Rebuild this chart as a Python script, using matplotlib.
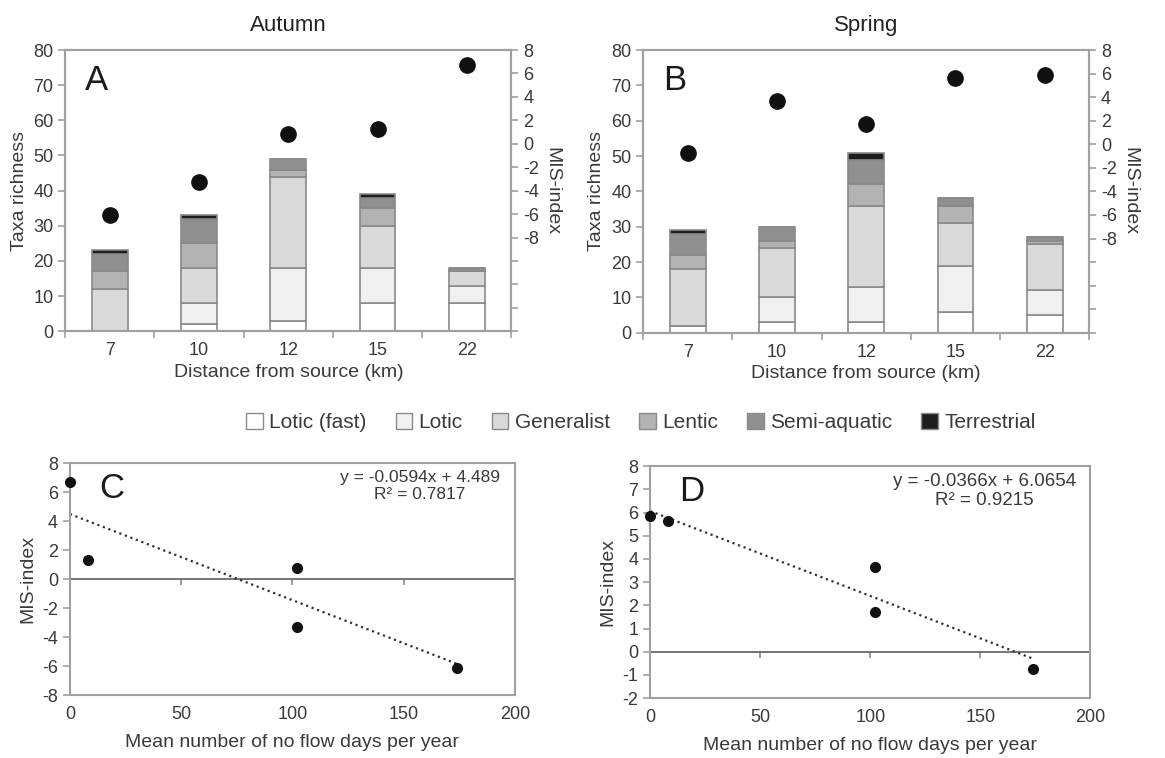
import numpy as np
import matplotlib
matplotlib.use('Agg')
import matplotlib.pyplot as plt
from matplotlib.patches import Patch

plt.rcParams['font.family'] = ['Liberation Sans', 'DejaVu Sans']
plt.rcParams['axes.unicode_minus'] = False

# Data
distance = ['7', '10', '12', '15', '22']
groups = ['Lotic (fast)', 'Lotic', 'Generalist', 'Lentic', 'Semi-aquatic', 'Terrestrial']
colors = ['#ffffff', '#f0f0f1', '#d9d9da', '#b3b3b4', '#8f8f90', '#1e1e1e']

# Autumn (A) taxa counts per group
aut_lotic_fast = [0, 2, 3, 8, 8]
aut_lotic = [0, 6, 15, 10, 5]
aut_generalist = [12, 10, 26, 12, 4]
aut_lentic = [5, 7, 2, 5, 0]
aut_semi = [5, 7, 3, 3, 1]
aut_terr = [1, 1, 0, 1, 0]
aut_mis = [-6.1, -3.3, 0.8, 1.3, 6.7]

# Spring (B)
spr_lotic_fast = [2, 3, 3, 6, 5]
spr_lotic = [0, 7, 10, 13, 7]
spr_generalist = [16, 14, 23, 12, 13]
spr_lentic = [4, 2, 6, 5, 1]
spr_semi = [6, 4, 7, 2, 1]
spr_terr = [1, 0, 2, 0, 0]
spr_mis = [-0.75, 3.65, 1.7, 5.65, 5.85]

# no flow days per site (same order as distance)
noflow_days = [174, 102, 102, 8, 0]

# trend line equations shown on the charts
aut_slope, aut_icpt, aut_r2 = -0.0594, 4.489, 0.7817
spr_slope, spr_icpt, spr_r2 = -0.0366, 6.0654, 0.9215

txt = '#3a3a3a'
spine = '#a0a0a0'

fig = plt.figure(figsize=(11.65, 7.58), dpi=100)


def bar_panel(rect, stacks, mis, letter, title):
    ax = fig.add_axes(rect)
    x = np.arange(len(distance))
    bottom = np.zeros(len(distance))
    for vals, c in zip(stacks, colors):
        ax.bar(x, vals, 0.4, bottom=bottom, color=c, edgecolor='#8a8a8a', linewidth=1.2, zorder=2)
        bottom += np.array(vals)
    ax.set_xlim(-0.5, len(distance) - 0.5)
    ax.set_ylim(0, 80)
    ax.set_yticks(range(0, 81, 10))
    ax.set_xticks(x)
    ax.set_xticklabels(distance)
    ax.set_xticks(np.arange(-0.5, len(distance)), minor=True)
    ax.tick_params(axis='x', which='major', length=0, pad=8)
    ax.tick_params(axis='x', which='minor', length=5, color=spine, width=1.2)
    ax.tick_params(axis='y', length=5, color=spine, width=1.2)
    ax.tick_params(labelsize=13, labelcolor=txt)
    ax.set_ylabel('Taxa richness', fontsize=14, color=txt, labelpad=4)
    ax.set_xlabel('Distance from source (km)', fontsize=14, color=txt, labelpad=3)
    ax.set_title(title, fontsize=16, color='#222222', pad=14)
    for s in ax.spines.values():
        s.set_color(spine)
        s.set_linewidth(1.5)
    ax.text(0.045, 0.95, letter, transform=ax.transAxes, fontsize=25, va='top', color='#1a1a1a')

    ax2 = ax.twinx()
    ax2.plot(x, mis, 'o', color='#111111', markersize=11, zorder=3)
    ax2.set_ylim(-16, 8)
    ax2.set_yticks(range(-16, 9, 2))
    ax2.set_yticklabels([str(v) if v >= -8 else '' for v in range(-16, 9, 2)])
    ax2.tick_params(axis='y', length=5, color=spine, width=1.2, labelsize=13, labelcolor=txt)
    ax2.set_ylabel('MIS-index', fontsize=14, color=txt, rotation=270)
    ax2.yaxis.set_label_coords(1.11, 0.5)
    for s in ax2.spines.values():
        s.set_color(spine)
        s.set_linewidth(1.5)
    return ax


def scatter_panel(rect, days, mis, slope, icpt, r2, ylo, ystep, letter, eqsize, eqx):
    ax = fig.add_axes(rect)
    ax.plot(days, mis, 'o', color='#111111', markersize=7, zorder=3, clip_on=False)
    xs = np.array([min(days), max(days)])
    ax.plot(xs, slope * xs + icpt, ':', color='#333333', linewidth=1.6, zorder=2)
    ax.axhline(0, color='#6a6a6a', linewidth=1.3, zorder=1)
    ax.set_xlim(0, 200)
    ax.set_ylim(ylo, 8)
    ax.set_yticks(np.arange(ylo, 8.1, ystep))
    ax.set_xticks(range(0, 201, 50))
    ax.tick_params(axis='x', length=0, pad=8)
    ax.tick_params(axis='y', length=5, color=spine, width=1.2)
    ax.tick_params(labelsize=13, labelcolor=txt)
    for s in ax.spines.values():
        s.set_color(spine)
        s.set_linewidth(1.5)
    # small tick marks hanging below the zero line
    sec = ax.secondary_xaxis((0 - ylo) / (8 - ylo))
    sec.set_xticks([50, 100, 150])
    sec.xaxis.set_ticks_position('top')
    sec.tick_params(axis='x', direction='in', length=4, color='#8a8a8a', width=1.2,
                    labelbottom=False, labeltop=False)
    for s in sec.spines.values():
        s.set_visible(False)
    ax.set_ylabel('MIS-index', fontsize=14, color=txt, labelpad=4)
    ax.set_xlabel('Mean number of no flow days per year', fontsize=14, color=txt, labelpad=8)
    ax.text(0.065, 0.96, letter, transform=ax.transAxes, fontsize=25, va='top', color='#1a1a1a')
    ax.text(eqx, 0.97, 'y = %.4fx + %s\nR² = %s' % (slope, icpt, r2), transform=ax.transAxes,
            fontsize=eqsize, color=txt, va='top', ha='center', multialignment='center', linespacing=1.15)
    return ax


bar_panel([0.056, 0.563, 0.383, 0.371],
          [aut_lotic_fast, aut_lotic, aut_generalist, aut_lentic, aut_semi, aut_terr],
          aut_mis, 'A', 'Autumn')
bar_panel([0.552, 0.561, 0.383, 0.373],
          [spr_lotic_fast, spr_lotic, spr_generalist, spr_lentic, spr_semi, spr_terr],
          spr_mis, 'B', 'Spring')

scatter_panel([0.060, 0.083, 0.382, 0.306], noflow_days, aut_mis, aut_slope, aut_icpt, aut_r2,
              -8, 2, 'C', 12.5, 0.787)
scatter_panel([0.558, 0.079, 0.378, 0.306], noflow_days, spr_mis, spr_slope, spr_icpt, spr_r2,
              -2, 1, 'D', 13.5, 0.76)

handles = [Patch(facecolor=c, edgecolor='#8a8a8a', linewidth=1.0) for c in colors]
fig.legend(handles, groups, loc='center', bbox_to_anchor=(0.55, 0.443), ncol=6, frameon=False,
           fontsize=15, handlelength=0.8, handleheight=0.8, handletextpad=0.3, columnspacing=1.4,
           labelcolor=txt)

fig.savefig('out.png', dpi=100)
